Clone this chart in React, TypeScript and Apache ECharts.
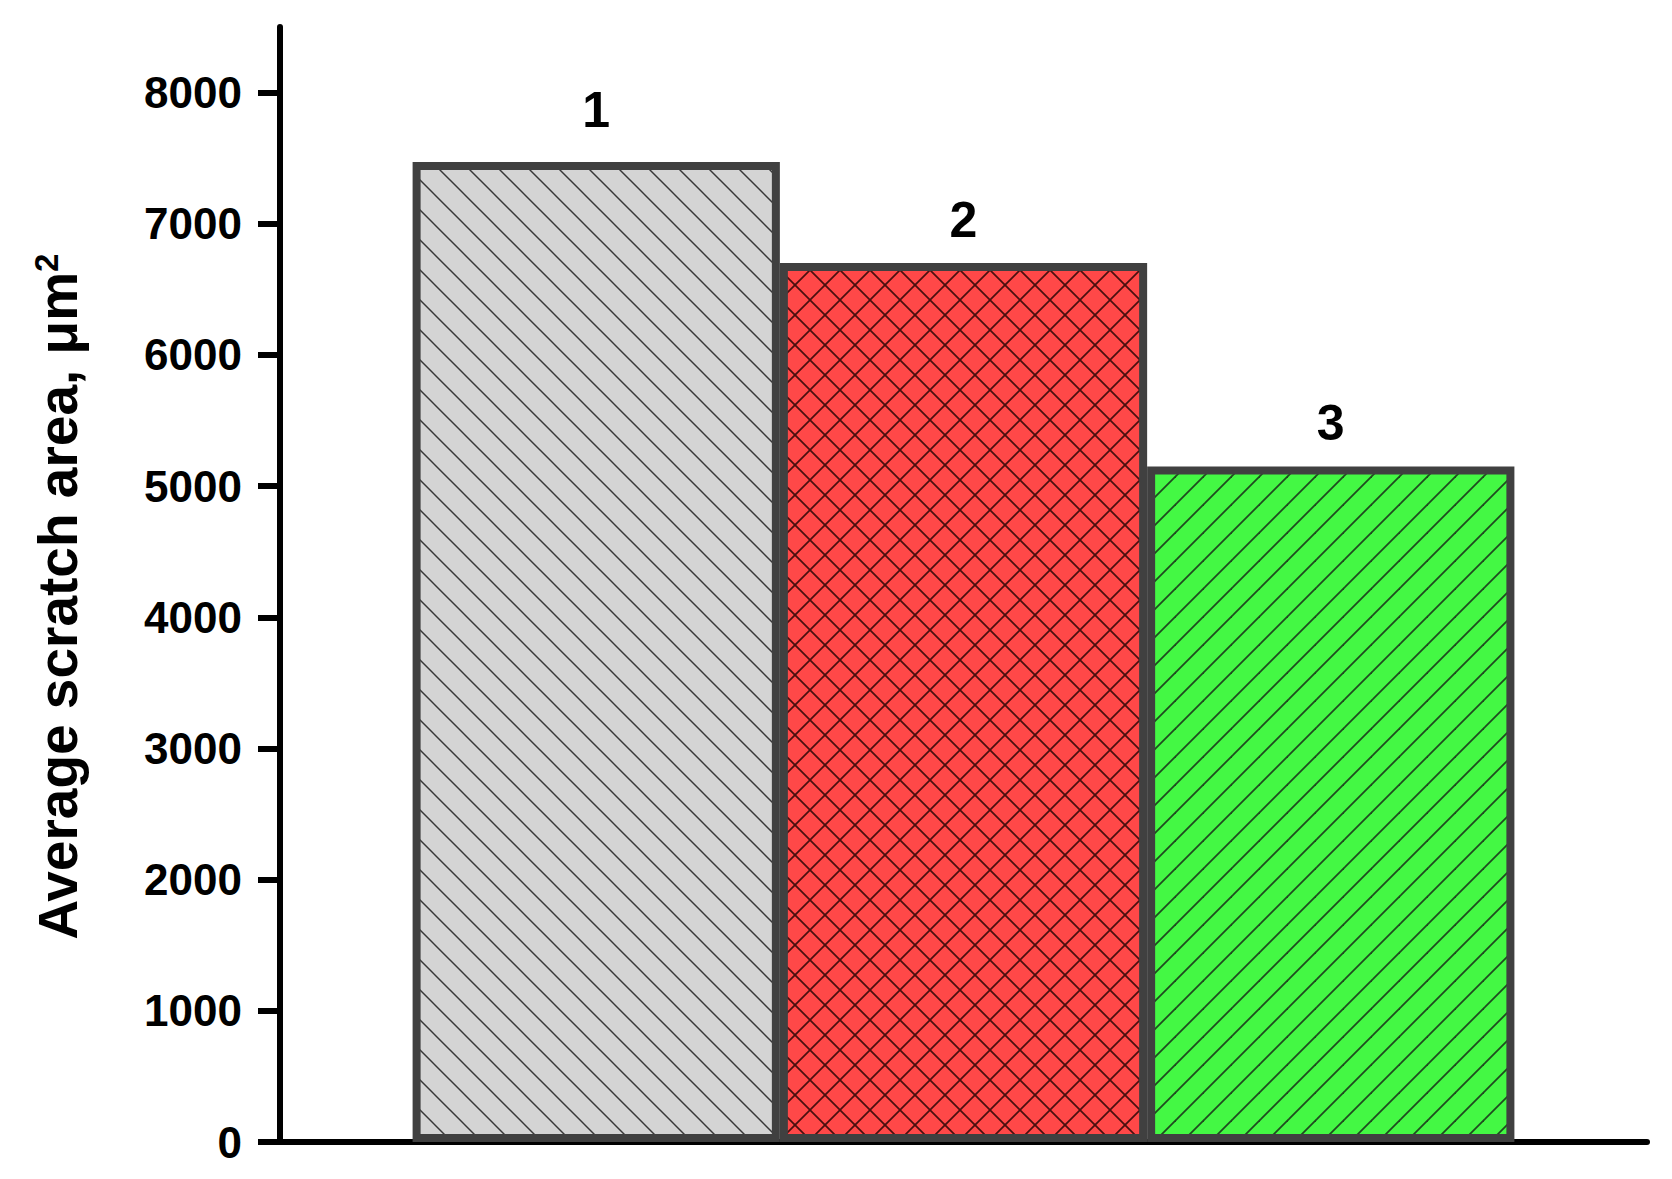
import React, { useEffect, useRef } from 'react';
import * as echarts from 'echarts';

const barLabels = ['1', '2', '3'];
const barValues = [7470, 6700, 5150];
const yTickValues = [0, 1000, 2000, 3000, 4000, 5000, 6000, 7000, 8000];
const yAxisTitle = 'Average scratch area, μm';
const yAxisTitleSup = '2';

type Dir = 'back' | 'fwd';

function makeHatch(bg: string, line: string, size: number, dirs: Dir[], lw: number) {
  const c = document.createElement('canvas');
  c.width = size;
  c.height = size;
  const ctx = c.getContext('2d')!;
  ctx.fillStyle = bg;
  ctx.fillRect(0, 0, size, size);
  ctx.strokeStyle = line;
  ctx.lineWidth = lw;
  for (const d of dirs) {
    for (let k = -1; k <= 1; k++) {
      ctx.beginPath();
      if (d === 'back') {
        ctx.moveTo(-2, -2 + k * size);
        ctx.lineTo(size + 2, size + 2 + k * size);
      } else {
        ctx.moveTo(-2, size + 2 + k * size);
        ctx.lineTo(size + 2, -2 + k * size);
      }
      ctx.stroke();
    }
  }
  return { image: c, repeat: 'repeat', imageWidth: size, imageHeight: size } as any;
}

export default function App() {
  const ref = useRef<HTMLDivElement>(null);
  useEffect(() => {
    document.body.style.margin = '0';
    const chart = echarts.init(ref.current!, null, { renderer: 'svg' });
    const patterns = [
      makeHatch('#d4d4d4', '#383838', 30, ['back'], 1.5),
      makeHatch('#ff4848', '#4a1010', 30, ['back', 'fwd'], 1.7),
      makeHatch('#44f844', '#1f4a1f', 28, ['fwd'], 1.8),
    ];
    const labelDistances = [27, 18, 18];
    const font = 'Liberation Sans, Arial, sans-serif';
    chart.setOption({
      animation: false,
      backgroundColor: '#ffffff',
      textStyle: { fontFamily: font },
      grid: { left: 280, right: 25, top: 27, bottom: 37, containLabel: false },
      xAxis: {
        type: 'category',
        data: [''],
        axisLine: { show: true, lineStyle: { color: '#000', width: 6 } },
        axisTick: { show: false },
        axisLabel: { show: false },
        splitLine: { show: false },
      },
      yAxis: {
        type: 'value',
        min: 0,
        max: 8500,
        name: yAxisTitle + '{sup|' + yAxisTitleSup + '}',
        nameLocation: 'middle',
        nameGap: 195,
        nameTextStyle: {
          fontSize: 55,
          fontWeight: 'bold',
          color: '#000',
          fontFamily: font,
          padding: [0, 24, 0, 0],
          rich: {
            sup: { fontSize: 33, fontWeight: 'bold', color: '#000', verticalAlign: 'top', fontFamily: font },
          },
        },
        axisLine: { show: true, lineStyle: { color: '#000', width: 6 } },
        axisTick: {
          show: true,
          inside: false,
          length: 22,
          customValues: yTickValues,
          lineStyle: { color: '#000', width: 6 },
        },
        axisLabel: {
          show: true,
          customValues: yTickValues,
          formatter: (v: number) => String(v),
          fontSize: 44,
          fontWeight: 'bold',
          color: '#000',
          margin: 38,
          fontFamily: font,
        },
        splitLine: { show: false },
      },
      series: barValues.map((v, i) => ({
        type: 'bar',
        name: barLabels[i],
        data: [v],
        barGap: '0%',
        barCategoryGap: '19.4%',
        itemStyle: { color: patterns[i], borderColor: '#404040', borderWidth: 8 },
        label: {
          show: true,
          position: 'top',
          formatter: barLabels[i],
          fontSize: 50,
          fontWeight: 'bold',
          color: '#000',
          distance: labelDistances[i],
          fontFamily: font,
        },
      })),
    });
    return () => chart.dispose();
  }, []);
  return <div ref={ref} style={{ position: 'fixed', left: 0, top: 0, width: 1672, height: 1179 }} />;
}
